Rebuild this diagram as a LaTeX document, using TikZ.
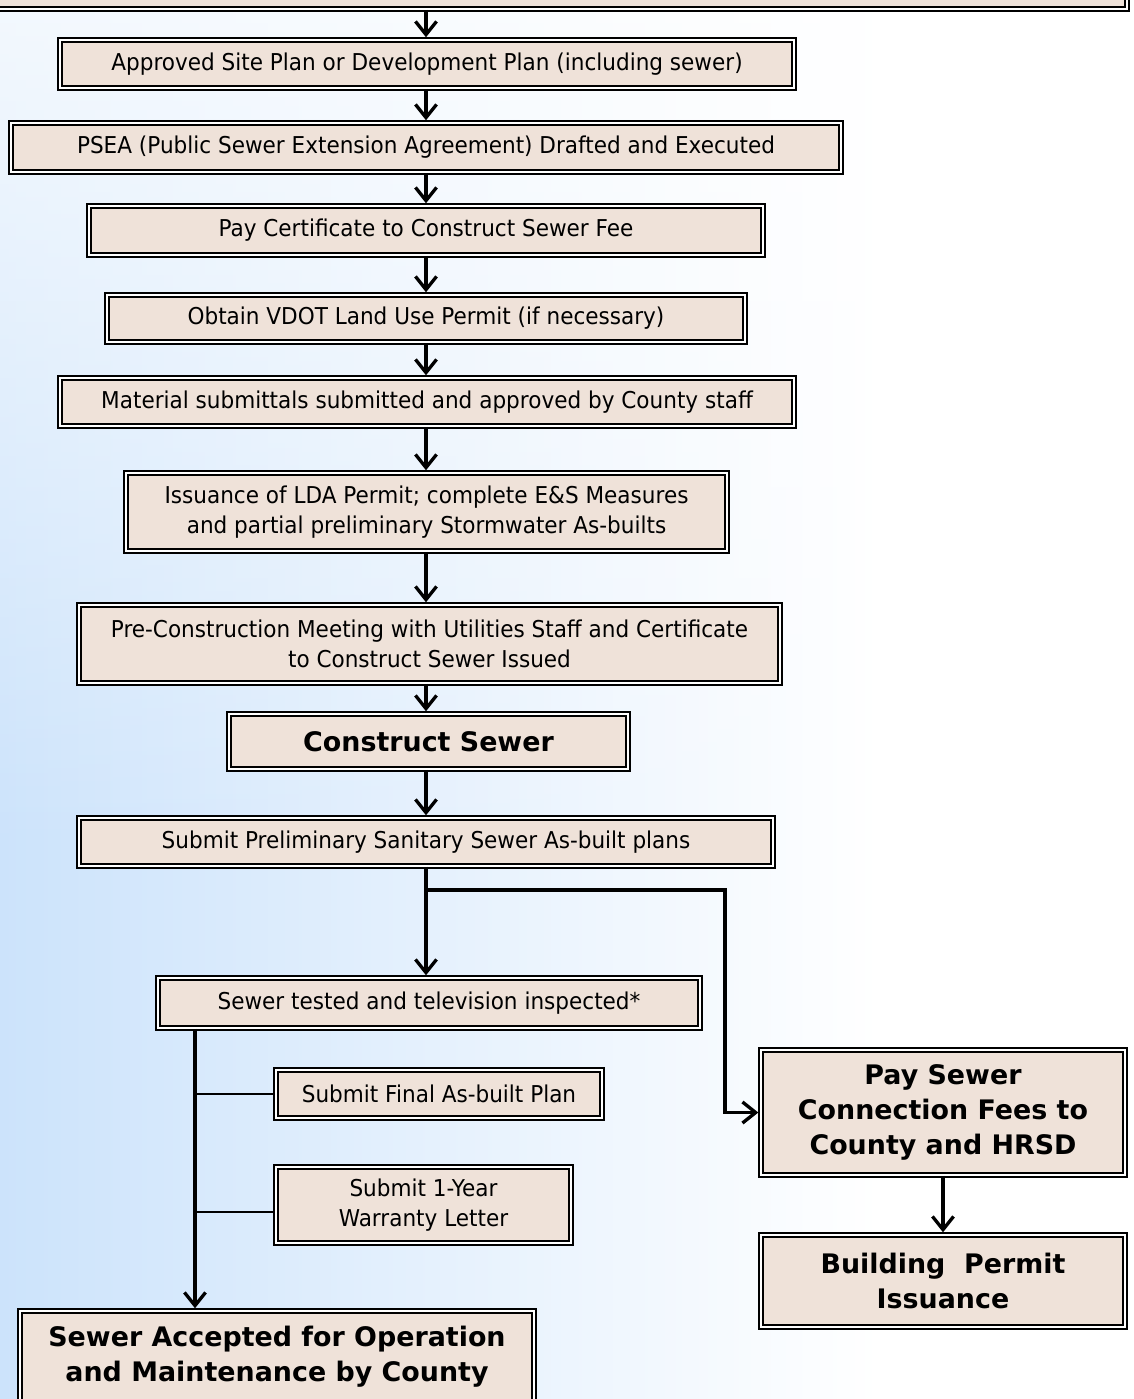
\documentclass[tikz,border=0pt]{standalone}
\usepackage{fontspec}
\setmainfont{DejaVu Sans}
\newfontfamily\narrowfont{DejaVu Sans}[FakeStretch=0.93]
\usetikzlibrary{arrows.meta,fadings}
\definecolor{bgblue}{RGB}{204,227,251}
\definecolor{boxfill}{RGB}{239,226,217}
\tikzset{
  box/.style={draw=black, double=white, line width=1.1pt, double distance=1.2pt,
    fill=boxfill, inner sep=0pt, align=center, text=black,
    font=\narrowfont\fontsize{13.2}{17}\selectfont},
  hbox/.style={box, font=\bfseries\fontsize{15.3}{19.8}\selectfont},
  arr/.style={line width=1.9pt, shorten >=1pt, -{Straight Barb[length=7.5pt,width=12pt]}},
  tie/.style={line width=0.9pt}
}
\begin{document}
\begin{tikzpicture}[x=0.02cm,y=-0.02cm]
\useasboundingbox (0,0) rectangle (1133,1399);
\clip (0,0) rectangle (1133,1399);
% background
\shade[left color=bgblue, right color=white] (0,0) rectangle (880,1399);
\fill[white] (879,0) rectangle (1133,1399);
\fill[white, path fading=south] (0,-250) rectangle (1133,850);

% boxes
\node[box, minimum width=22.94cm, minimum height=1.78cm] (top) at (553.5,-35.5) {};
\node[box, minimum width=14.68cm, minimum height=0.96cm] (b1) at (427,64) {Approved Site Plan or Development Plan (including sewer)};
\node[box, minimum width=16.6cm, minimum height=0.98cm] (b2) at (426,147.5) {PSEA (Public Sewer Extension Agreement) Drafted and Executed};
\node[box, minimum width=13.48cm, minimum height=0.98cm] (b3) at (426,230.5) {Pay Certificate to Construct Sewer Fee};
\node[box, minimum width=12.76cm, minimum height=0.94cm] (b4) at (426,318.5) {Obtain VDOT Land Use Permit (if necessary)};
\node[box, minimum width=14.68cm, minimum height=0.96cm] (b5) at (427,402) {Material submittals submitted and approved by County staff};
\node[box, minimum width=12.02cm, minimum height=1.56cm] (b6) at (426.5,512) {Issuance of LDA Permit; complete E\&S Measures\\and partial preliminary Stormwater As-builts};
\node[box, minimum width=14.02cm, minimum height=1.56cm] (b7) at (429.5,644) {Pre-Construction Meeting with Utilities Staff and Certificate\\to Construct Sewer Issued};
\node[hbox, minimum width=7.98cm, minimum height=1.10cm] (b8) at (428.5,741.5) {Construct Sewer};
\node[box, minimum width=13.88cm, minimum height=0.96cm] (b9) at (426,842) {Submit Preliminary Sanitary Sewer As-built plans};
\node[box, minimum width=10.84cm, minimum height=1.0cm] (b10) at (429,1003) {Sewer tested and television inspected*};
\node[box, minimum width=6.52cm, minimum height=0.96cm] (b11) at (439,1094) {Submit Final As-built Plan};
\node[box, minimum width=5.9cm, minimum height=1.52cm] (b12) at (423.5,1205) {Submit 1-Year\\Warranty Letter};
\node[hbox, minimum width=10.28cm, minimum height=1.84cm] (b13) at (277,1357) {Sewer Accepted for Operation\\and Maintenance by County};
\node[hbox, minimum width=7.28cm, minimum height=2.5cm] (b14) at (943,1112.5) {Pay Sewer\\Connection Fees to\\County and HRSD};
\node[hbox, minimum width=7.28cm, minimum height=1.84cm] (b15) at (943,1281) {Building~~Permit\\Issuance};

% connectors
\coordinate (mx) at (426,0);
\coordinate (lx) at (195,0);
\coordinate (j) at (725,890);
\draw[arr] (top.south -| mx) -- (b1.north -| mx);
\draw[arr] (b1.south -| mx) -- (b2.north -| mx);
\draw[arr] (b2.south -| mx) -- (b3.north -| mx);
\draw[arr] (b3.south -| mx) -- (b4.north -| mx);
\draw[arr] (b4.south -| mx) -- (b5.north -| mx);
\draw[arr] (b5.south -| mx) -- (b6.north -| mx);
\draw[arr] (b6.south -| mx) -- (b7.north -| mx);
\draw[arr] (b7.south -| mx) -- (b8.north -| mx);
\draw[arr] (b8.south -| mx) -- (b9.north -| mx);
\draw[arr] (b9.south -| mx) -- (b10.north -| mx);
\draw[arr] (b9.south -| mx) |- (j) |- (b14.west);
\draw[arr] (b10.south -| lx) -- (b13.north -| lx);
\draw[tie] (lx |- b11.west) -- (b11.west);
\draw[tie] ([yshift=-4pt]lx |- b12.west) -- ([yshift=-4pt]b12.west);
\draw[arr] (b14.south) -- (b15.north);
\end{tikzpicture}
\end{document}
